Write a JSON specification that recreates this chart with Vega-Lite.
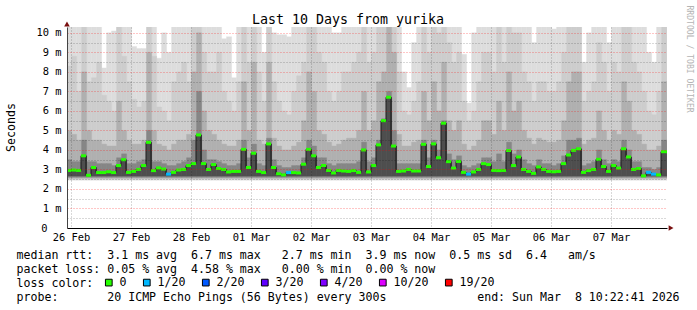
{
  "$schema": "https://vega.github.io/schema/vega-lite/v6.json",
  "width": 600,
  "height": 201,
  "autosize": "none",
  "padding": {"left": 67, "top": 27, "right": 30, "bottom": 82},
  "background": "white",
  "config": {"view": {"stroke": null}, "font": "DejaVu Sans Mono"},
  "title": {"text": "Last 10 Days from yurika", "font": "DejaVu Sans Mono", "fontSize": 13.3, "fontWeight": "normal", "color": "#000000", "anchor": "middle", "dx": -19, "dy": 35, "offset": 3, "baseline": "alphabetic"},
  "datasets": {
    "ping": [
      {"t":"2026-02-26T10:00:00Z","m":2.95,"l":"0","a":11,"b":8.3,"c":5.0,"d":3.5},
      {"t":"2026-02-26T12:00:00Z","m":2.97,"l":"0","a":11,"b":8.8,"c":4.8,"d":3.4},
      {"t":"2026-02-26T14:00:00Z","m":2.95,"l":"0","a":11,"b":7.0,"c":4.5,"d":3.4},
      {"t":"2026-02-26T16:00:00Z","m":3.7,"l":"0","a":11,"b":11,"c":8,"d":4.5},
      {"t":"2026-02-26T18:00:00Z","m":2.7,"l":"0","a":11,"b":7.5,"c":5,"d":3.4},
      {"t":"2026-02-26T20:00:00Z","m":3.1,"l":"0","a":11,"b":7.7,"c":4.5,"d":3.4},
      {"t":"2026-02-26T22:00:00Z","m":2.84,"l":"0","a":11,"b":8.5,"c":4.5,"d":3.3},
      {"t":"2026-02-27T00:00:00Z","m":2.84,"l":"0","a":8.2,"b":6.8,"c":4.3,"d":3.3},
      {"t":"2026-02-27T02:00:00Z","m":2.88,"l":"0","a":10.0,"b":6.5,"c":4.2,"d":3.3},
      {"t":"2026-02-27T04:00:00Z","m":2.84,"l":"0","a":10.1,"b":6.0,"c":4.2,"d":3.2},
      {"t":"2026-02-27T06:00:00Z","m":3.2,"l":"0","a":11,"b":11,"c":6.5,"d":3.6},
      {"t":"2026-02-27T08:00:00Z","m":3.5,"l":"0","a":11,"b":8.8,"c":5.0,"d":3.8},
      {"t":"2026-02-27T10:00:00Z","m":2.85,"l":"0","a":11,"b":7.5,"c":4.5,"d":3.3},
      {"t":"2026-02-27T12:00:00Z","m":2.9,"l":"0","a":9.3,"b":6.6,"c":4.3,"d":3.3},
      {"t":"2026-02-27T14:00:00Z","m":3.0,"l":"0","a":9.2,"b":6.2,"c":4.3,"d":3.4},
      {"t":"2026-02-27T16:00:00Z","m":3.2,"l":"0","a":9.2,"b":6.5,"c":4.5,"d":3.5},
      {"t":"2026-02-27T18:00:00Z","m":4.39,"l":"0","a":11,"b":11,"c":9,"d":5},
      {"t":"2026-02-27T20:00:00Z","m":2.94,"l":"0","a":11,"b":8.8,"c":5,"d":3.4},
      {"t":"2026-02-27T22:00:00Z","m":3.08,"l":"0","a":8.7,"b":6.2,"c":4.3,"d":3.4},
      {"t":"2026-02-28T00:00:00Z","m":3.02,"l":"0","a":10,"b":6,"c":4.2,"d":3.3},
      {"t":"2026-02-28T02:00:00Z","m":2.76,"l":"1/20","a":9,"b":5.5,"c":4,"d":3.2},
      {"t":"2026-02-28T04:00:00Z","m":2.85,"l":"0","a":11,"b":7.5,"c":4.3,"d":3.2},
      {"t":"2026-02-28T06:00:00Z","m":2.97,"l":"0","a":11,"b":8,"c":4.5,"d":3.3},
      {"t":"2026-02-28T08:00:00Z","m":3.0,"l":"0","a":11,"b":8.5,"c":4.5,"d":3.4},
      {"t":"2026-02-28T10:00:00Z","m":3.2,"l":"0","a":11,"b":7.5,"c":4.8,"d":3.6},
      {"t":"2026-02-28T12:00:00Z","m":3.3,"l":"0","a":11,"b":11,"c":8,"d":4.5},
      {"t":"2026-02-28T14:00:00Z","m":4.77,"l":"0","a":11,"b":11,"c":10,"d":7},
      {"t":"2026-02-28T16:00:00Z","m":3.3,"l":"0","a":11,"b":9,"c":6,"d":4},
      {"t":"2026-02-28T18:00:00Z","m":3.0,"l":"0","a":11,"b":8,"c":5,"d":3.5},
      {"t":"2026-02-28T20:00:00Z","m":3.25,"l":"0","a":11,"b":8,"c":4.8,"d":3.5},
      {"t":"2026-02-28T22:00:00Z","m":3.05,"l":"0","a":11,"b":9,"c":4.5,"d":3.4},
      {"t":"2026-03-01T00:00:00Z","m":3.0,"l":"0","a":9.7,"b":7,"c":4.3,"d":3.3},
      {"t":"2026-03-01T02:00:00Z","m":2.87,"l":"0","a":9.8,"b":6.5,"c":4.2,"d":3.2},
      {"t":"2026-03-01T04:00:00Z","m":2.9,"l":"0","a":7.7,"b":6,"c":4.2,"d":3.2},
      {"t":"2026-03-01T06:00:00Z","m":2.9,"l":"0","a":11,"b":7.5,"c":4.5,"d":3.3},
      {"t":"2026-03-01T08:00:00Z","m":4.03,"l":"0","a":11,"b":11,"c":7.5,"d":4.5},
      {"t":"2026-03-01T10:00:00Z","m":3.1,"l":"0","a":11,"b":8.5,"c":5,"d":3.6},
      {"t":"2026-03-01T12:00:00Z","m":3.83,"l":"0","a":11,"b":11,"c":8.5,"d":4.3},
      {"t":"2026-03-01T14:00:00Z","m":2.9,"l":"0","a":11,"b":8,"c":4.5,"d":3.3},
      {"t":"2026-03-01T16:00:00Z","m":2.84,"l":"0","a":9,"b":6.5,"c":4.3,"d":3.2},
      {"t":"2026-03-01T18:00:00Z","m":4.31,"l":"0","a":11,"b":11,"c":8.5,"d":4.6},
      {"t":"2026-03-01T20:00:00Z","m":3.1,"l":"0","a":10,"b":7.5,"c":4.6,"d":3.5},
      {"t":"2026-03-01T22:00:00Z","m":2.78,"l":"0","a":9.9,"b":6.5,"c":4.2,"d":3.2},
      {"t":"2026-03-02T00:00:00Z","m":2.72,"l":"0","a":9.9,"b":6,"c":4,"d":3.1},
      {"t":"2026-03-02T02:00:00Z","m":2.84,"l":"1/20","a":9.8,"b":5.8,"c":4,"d":3.1},
      {"t":"2026-03-02T04:00:00Z","m":2.84,"l":"0","a":11,"b":7,"c":4.2,"d":3.2},
      {"t":"2026-03-02T06:00:00Z","m":2.82,"l":"0","a":11,"b":7.8,"c":4.4,"d":3.2},
      {"t":"2026-03-02T08:00:00Z","m":3.27,"l":"0","a":11,"b":8.5,"c":5.5,"d":3.6},
      {"t":"2026-03-02T10:00:00Z","m":4.03,"l":"0","a":11,"b":11,"c":8,"d":4.5},
      {"t":"2026-03-02T12:00:00Z","m":3.7,"l":"0","a":11,"b":11,"c":7,"d":4.2},
      {"t":"2026-03-02T14:00:00Z","m":3.1,"l":"0","a":11,"b":9,"c":5,"d":3.6},
      {"t":"2026-03-02T16:00:00Z","m":3.2,"l":"0","a":11,"b":8.5,"c":4.8,"d":3.6},
      {"t":"2026-03-02T18:00:00Z","m":2.95,"l":"0","a":10.5,"b":7,"c":4.4,"d":3.3},
      {"t":"2026-03-02T20:00:00Z","m":2.82,"l":"0","a":10,"b":6.5,"c":4.2,"d":3.2},
      {"t":"2026-03-02T22:00:00Z","m":2.95,"l":"0","a":10,"b":7,"c":4.3,"d":3.3},
      {"t":"2026-03-03T00:00:00Z","m":2.92,"l":"0","a":11,"b":8,"c":4.5,"d":3.3},
      {"t":"2026-03-03T02:00:00Z","m":2.9,"l":"0","a":11,"b":8,"c":4.6,"d":3.3},
      {"t":"2026-03-03T04:00:00Z","m":2.94,"l":"0","a":11,"b":8.5,"c":4.6,"d":3.3},
      {"t":"2026-03-03T06:00:00Z","m":2.85,"l":"0","a":11,"b":9,"c":5,"d":3.4},
      {"t":"2026-03-03T08:00:00Z","m":4.0,"l":"0","a":11,"b":11,"c":7,"d":4.4},
      {"t":"2026-03-03T10:00:00Z","m":2.87,"l":"0","a":11,"b":8.5,"c":5,"d":3.4},
      {"t":"2026-03-03T12:00:00Z","m":3.2,"l":"0","a":11,"b":9,"c":5.5,"d":3.6},
      {"t":"2026-03-03T14:00:00Z","m":4.26,"l":"0","a":11,"b":11,"c":7.5,"d":4.5},
      {"t":"2026-03-03T16:00:00Z","m":5.5,"l":"0","a":11,"b":11,"c":8,"d":5.6},
      {"t":"2026-03-03T18:00:00Z","m":6.7,"l":"0","a":11,"b":11,"c":11,"d":7},
      {"t":"2026-03-03T20:00:00Z","m":4.2,"l":"0","a":11,"b":11,"c":9,"d":5},
      {"t":"2026-03-03T22:00:00Z","m":2.9,"l":"0","a":11,"b":8,"c":4.8,"d":3.3},
      {"t":"2026-03-04T00:00:00Z","m":2.92,"l":"0","a":8,"b":6,"c":4.2,"d":3.3},
      {"t":"2026-03-04T02:00:00Z","m":3.0,"l":"0","a":7.2,"b":5.8,"c":4.2,"d":3.3},
      {"t":"2026-03-04T04:00:00Z","m":2.92,"l":"0","a":9.5,"b":6.5,"c":4.4,"d":3.3},
      {"t":"2026-03-04T06:00:00Z","m":2.92,"l":"0","a":11,"b":7.5,"c":4.5,"d":3.3},
      {"t":"2026-03-04T08:00:00Z","m":4.29,"l":"0","a":11,"b":11,"c":7,"d":4.5},
      {"t":"2026-03-04T10:00:00Z","m":3.15,"l":"0","a":11,"b":9,"c":5.5,"d":3.6},
      {"t":"2026-03-04T12:00:00Z","m":4.31,"l":"0","a":11,"b":11,"c":7.5,"d":4.5},
      {"t":"2026-03-04T14:00:00Z","m":3.6,"l":"0","a":11,"b":10,"c":6,"d":4},
      {"t":"2026-03-04T16:00:00Z","m":5.37,"l":"0","a":11,"b":11,"c":8.5,"d":5.5},
      {"t":"2026-03-04T18:00:00Z","m":3.4,"l":"0","a":11,"b":9.5,"c":5.5,"d":3.8},
      {"t":"2026-03-04T20:00:00Z","m":3.07,"l":"0","a":11,"b":8.5,"c":5,"d":3.5},
      {"t":"2026-03-04T22:00:00Z","m":3.41,"l":"0","a":11,"b":9,"c":5.5,"d":3.7},
      {"t":"2026-03-05T00:00:00Z","m":2.85,"l":"0","a":8.9,"b":6.5,"c":4.3,"d":3.2},
      {"t":"2026-03-05T02:00:00Z","m":2.76,"l":"1/20","a":6.4,"b":5.5,"c":4,"d":3.1},
      {"t":"2026-03-05T04:00:00Z","m":2.87,"l":"0","a":10,"b":6,"c":4.2,"d":3.2},
      {"t":"2026-03-05T06:00:00Z","m":3.0,"l":"0","a":11,"b":7.5,"c":4.5,"d":3.3},
      {"t":"2026-03-05T08:00:00Z","m":3.3,"l":"0","a":11,"b":9,"c":5.5,"d":3.6},
      {"t":"2026-03-05T10:00:00Z","m":3.25,"l":"0","a":11,"b":9,"c":5.5,"d":3.6},
      {"t":"2026-03-05T12:00:00Z","m":2.95,"l":"0","a":11,"b":8,"c":4.8,"d":3.4},
      {"t":"2026-03-05T14:00:00Z","m":2.94,"l":"0","a":11,"b":11,"c":6.5,"d":3.8},
      {"t":"2026-03-05T16:00:00Z","m":2.95,"l":"0","a":11,"b":8.5,"c":5,"d":3.4},
      {"t":"2026-03-05T18:00:00Z","m":3.97,"l":"0","a":11,"b":11,"c":8,"d":4.4},
      {"t":"2026-03-05T20:00:00Z","m":3.2,"l":"0","a":11,"b":10,"c":6,"d":3.8},
      {"t":"2026-03-05T22:00:00Z","m":3.64,"l":"0","a":11,"b":10,"c":6.5,"d":4},
      {"t":"2026-03-06T00:00:00Z","m":3.0,"l":"0","a":11,"b":8,"c":5,"d":3.5},
      {"t":"2026-03-06T02:00:00Z","m":2.9,"l":"0","a":11,"b":7.5,"c":4.6,"d":3.3},
      {"t":"2026-03-06T04:00:00Z","m":2.8,"l":"0","a":9.5,"b":6.5,"c":4.3,"d":3.2},
      {"t":"2026-03-06T06:00:00Z","m":3.13,"l":"0","a":11,"b":7.5,"c":4.6,"d":3.5},
      {"t":"2026-03-06T08:00:00Z","m":3.0,"l":"0","a":11,"b":7.5,"c":4.5,"d":3.3},
      {"t":"2026-03-06T10:00:00Z","m":2.9,"l":"0","a":11,"b":7,"c":4.4,"d":3.3},
      {"t":"2026-03-06T12:00:00Z","m":2.88,"l":"0","a":10.2,"b":7,"c":4.4,"d":3.2},
      {"t":"2026-03-06T14:00:00Z","m":2.9,"l":"0","a":11,"b":7.5,"c":4.5,"d":3.3},
      {"t":"2026-03-06T16:00:00Z","m":3.3,"l":"0","a":11,"b":9,"c":5.5,"d":3.7},
      {"t":"2026-03-06T18:00:00Z","m":3.74,"l":"0","a":11,"b":11,"c":7.5,"d":4.5},
      {"t":"2026-03-06T20:00:00Z","m":3.98,"l":"0","a":11,"b":11,"c":8,"d":4.5},
      {"t":"2026-03-06T22:00:00Z","m":4.06,"l":"0","a":11,"b":11,"c":8,"d":4.6},
      {"t":"2026-03-07T00:00:00Z","m":2.85,"l":"0","a":8.5,"b":6.5,"c":4.3,"d":3.2},
      {"t":"2026-03-07T02:00:00Z","m":2.94,"l":"0","a":10,"b":7,"c":4.5,"d":3.3},
      {"t":"2026-03-07T04:00:00Z","m":3.0,"l":"0","a":11,"b":7.5,"c":4.6,"d":3.4},
      {"t":"2026-03-07T06:00:00Z","m":3.52,"l":"0","a":11,"b":9.5,"c":6,"d":4},
      {"t":"2026-03-07T08:00:00Z","m":3.15,"l":"0","a":11,"b":8.5,"c":5,"d":3.5},
      {"t":"2026-03-07T10:00:00Z","m":2.9,"l":"0","a":9.5,"b":7,"c":4.5,"d":3.3},
      {"t":"2026-03-07T12:00:00Z","m":3.2,"l":"0","a":11,"b":8.5,"c":5,"d":3.5},
      {"t":"2026-03-07T14:00:00Z","m":3.07,"l":"0","a":11,"b":8,"c":4.8,"d":3.4},
      {"t":"2026-03-07T16:00:00Z","m":4.06,"l":"0","a":11,"b":11,"c":7.5,"d":4.5},
      {"t":"2026-03-07T18:00:00Z","m":3.64,"l":"0","a":11,"b":11,"c":6.5,"d":4},
      {"t":"2026-03-07T20:00:00Z","m":3.0,"l":"0","a":11,"b":8.5,"c":5,"d":3.4},
      {"t":"2026-03-07T22:00:00Z","m":3.05,"l":"0","a":11,"b":8,"c":4.8,"d":3.4},
      {"t":"2026-03-08T00:00:00Z","m":2.67,"l":"0","a":11,"b":7,"c":4.3,"d":3.1},
      {"t":"2026-03-08T02:00:00Z","m":2.85,"l":"1/20","a":9,"b":6,"c":4,"d":3.1},
      {"t":"2026-03-08T04:00:00Z","m":2.76,"l":"1/20","a":8.5,"b":5.8,"c":4,"d":3.0},
      {"t":"2026-03-08T06:00:00Z","m":2.72,"l":"0","a":11,"b":7,"c":4.2,"d":3.1},
      {"t":"2026-03-08T08:00:00Z","m":3.91,"l":"0","a":11,"b":11,"c":7.5,"d":4.5},
      {"t":"2026-03-08T10:00:00Z","m":3.91,"l":"0","a":11,"b":11,"c":7.5,"d":4.5}
    ],
    "arrows": [
      {"t":"2026-02-26T10:22:41Z","v":10.45,"s":"triangle-up"},
      {"t":"2026-03-08T12:00:00Z","v":0,"s":"triangle-right"}
    ]
  },
  "data": {"name": "ping"},
  "layer": [
    {
      "mark": {"type": "rect", "color": "#dddddd", "stroke": "#dddddd", "strokeWidth": 0.4, "clip": true},
      "encoding": {
        "x": {
          "field": "t", "type": "temporal",
          "timeUnit": {"unit": "utcyearmonthdatehours", "step": 2},
          "scale": {"type": "utc", "nice": false, "domain": [{"year":2026,"month":2,"date":26,"hours":10,"minutes":22,"seconds":41,"utc":true},{"year":2026,"month":3,"date":8,"hours":10,"minutes":22,"seconds":41,"utc":true}]},
          "axis": {
            "title": ["median rtt:\u00a0\u00a03.1 ms avg\u00a0\u00a06.7 ms max\u00a0\u00a0\u00a02.7 ms min\u00a0\u00a03.9 ms now\u00a0\u00a00.5 ms sd\u00a0\u00a06.4\u00a0\u00a0\u00a0am/s", "packet loss: 0.05 % avg\u00a0\u00a04.58 % max\u00a0\u00a0\u00a00.00 % min\u00a0\u00a00.00 % now", "loss color:", "probe:\u00a0\u00a0\u00a0\u00a0\u00a0\u00a0\u00a020 ICMP Echo Pings (56 Bytes) every 300s\u00a0\u00a0\u00a0\u00a0\u00a0\u00a0\u00a0\u00a0\u00a0\u00a0\u00a0\u00a0\u00a0end: Sun Mar\u00a0\u00a08 10:22:41 2026"],
            "values": [1772107200000,1772128800000,1772150400000,1772172000000,1772193600000,1772215200000,1772236800000,1772258400000,1772280000000,1772301600000,1772323200000,1772344800000,1772366400000,1772388000000,1772409600000,1772431200000,1772452800000,1772474400000,1772496000000,1772517600000,1772539200000,1772560800000,1772582400000,1772604000000,1772625600000,1772647200000,1772668800000,1772690400000,1772712000000,1772733600000,1772755200000,1772776800000,1772798400000,1772820000000,1772841600000,1772863200000,1772884800000,1772906400000,1772928000000,1772949600000],
            "labelExpr": "utchours(datum.value) == 12 ? utcFormat(datum.value, '%d %b') : ''",
            "labelOverlap": false,
            "labelFont": "DejaVu Sans Mono", "labelFontSize": 10.4, "labelColor": "#000000", "labelPadding": 4,
            "ticks": false, "domainColor": "#000000",
            "grid": true, "gridDash": [1, 2], "gridWidth": 1,
            "gridColor": {"condition": {"test": "utchours(datum.value) == 0", "value": "rgba(255,0,0,0.45)"}, "value": "rgba(0,0,0,0.3)"},
            "titleFont": "DejaVu Sans Mono", "titleFontSize": 11.6, "titleFontWeight": "normal", "titleColor": "#000000",
            "titleAnchor": "start", "titleAlign": "left", "titleBaseline": "alphabetic", "titleX": -51, "titleY": 30.5, "titleLineHeight": 13.9,
            "zindex": 1
          }
        },
        "y": {"field": "a", "type": "quantitative", "scale": {"domain": [0, 10.3], "nice": false, "zero": false},
          "axis": {
            "title": "Seconds", "values": [0,0.5,1,1.5,2,2.5,3,3.5,4,4.5,5,5.5,6,6.5,7,7.5,8,8.5,9,9.5,10],
            "labelExpr": "datum.value % 1 != 0 ? '' : (datum.value == 0 ? '0' : datum.value + ' m')",
            "labelOverlap": false, "labelFont": "DejaVu Sans Mono", "labelFontSize": 10.4, "labelColor": "#000000",
            "labelPadding": {"condition": {"test": "datum.value == 0", "value": 20}, "value": 6},
            "ticks": false, "domainColor": "#444444",
            "grid": true, "gridDash": [1, 2], "gridWidth": 1,
            "gridColor": {"condition": {"test": "datum.value % 1 == 0", "value": "rgba(255,0,0,0.45)"}, "value": "rgba(0,0,0,0.3)"},
            "titleFont": "DejaVu Sans Mono", "titleFontSize": 11.6, "titleFontWeight": "normal", "titleColor": "#000000",
            "titleAngle": -90, "titleX": -56, "titleY": 100, "titleAlign": "center", "titleBaseline": "middle",
            "zindex": 1
          }
        },
        "y2": {"datum": 2.45}
      }
    },
    {
      "mark": {"type": "rect", "color": "#cdcdcd", "stroke": "#cdcdcd", "strokeWidth": 0.4, "clip": true},
      "encoding": {
        "x": {"field": "t", "type": "temporal", "timeUnit": {"unit": "utcyearmonthdatehours", "step": 2}},
        "y": {"field": "b", "type": "quantitative", "axis": null}, "y2": {"datum": 2.5}}
    },
    {
      "mark": {"type": "rect", "color": "#b0b0b0", "stroke": "#b0b0b0", "strokeWidth": 0.4, "clip": true},
      "encoding": {
        "x": {"field": "t", "type": "temporal", "timeUnit": {"unit": "utcyearmonthdatehours", "step": 2}},
        "y": {"field": "c", "type": "quantitative", "axis": null}, "y2": {"datum": 2.55}}
    },
    {
      "mark": {"type": "rect", "color": "#868686", "stroke": "#868686", "strokeWidth": 0.4, "clip": true},
      "encoding": {
        "x": {"field": "t", "type": "temporal", "timeUnit": {"unit": "utcyearmonthdatehours", "step": 2}},
        "y": {"field": "d", "type": "quantitative", "axis": null}, "y2": {"datum": 2.6}}
    },
    {
      "mark": {"type": "rect", "color": "#4e4e4e", "stroke": "#4e4e4e", "strokeWidth": 0.4, "clip": true},
      "encoding": {
        "x": {"field": "t", "type": "temporal", "timeUnit": {"unit": "utcyearmonthdatehours", "step": 2}},
        "y": {"field": "m", "type": "quantitative", "axis": null}, "y2": {"datum": 2.66}}
    },
    {
      "mark": {"type": "line", "interpolate": "step", "color": "#111111", "strokeWidth": 1, "clip": true},
      "encoding": {
        "x": {"field": "t", "type": "temporal", "timeUnit": {"unit": "utcyearmonthdatehours", "step": 2}, "bandPosition": 0.5},
        "y": {"field": "m", "type": "quantitative", "axis": null}
      }
    },
    {
      "mark": {"type": "tick", "orient": "horizontal", "size": 5, "thickness": 3, "opacity": 1, "clip": true},
      "encoding": {
        "x": {"field": "t", "type": "temporal", "timeUnit": {"unit": "utcyearmonthdatehours", "step": 2}, "bandPosition": 0.5},
        "y": {"field": "m", "type": "quantitative",
          "axis": {"orient": "right", "title": "RRDTOOL / TOBI OETIKER", "labels": false, "ticks": false, "domain": false, "grid": false,
            "titleAngle": 90, "titleFont": "DejaVu Sans Mono", "titleFontSize": 8.1, "titleFontWeight": "normal", "titleColor": "#b4b4b4",
            "titleX": 21, "titleY": -22, "titleAlign": "left", "titleBaseline": "middle"}},
        "color": {"field": "l", "type": "nominal",
          "scale": {"domain": ["0", "1/20", "2/20", "3/20", "4/20", "10/20", "19/20"], "range": ["#26ff00", "#00b8ff", "#0059ff", "#5e00ff", "#7e00ff", "#dd00ff", "#ff0000"]},
          "legend": {"orient": "none", "legendX": 36, "legendY": 249.5, "direction": "horizontal", "title": null,
            "symbolType": "square", "symbolSize": 45, "symbolStrokeColor": "#000000", "symbolStrokeWidth": 1, "symbolOpacity": 1,
            "labelFont": "DejaVu Sans Mono", "labelFontSize": 11.6, "labelColor": "#000000", "labelOffset": 5, "columnPadding": 14, "padding": 0}}
      }
    },
    {
      "data": {"name": "arrows"},
      "mark": {"type": "point", "filled": true, "opacity": 1, "color": "#7a1010", "size": 32},
      "encoding": {
        "x": {"field": "t", "type": "temporal"},
        "y": {"field": "v", "type": "quantitative", "axis": null},
        "shape": {"field": "s", "type": "nominal", "scale": null}
      }
    }
  ],
  "resolve": {"axis": {"y": "independent"}}
}
